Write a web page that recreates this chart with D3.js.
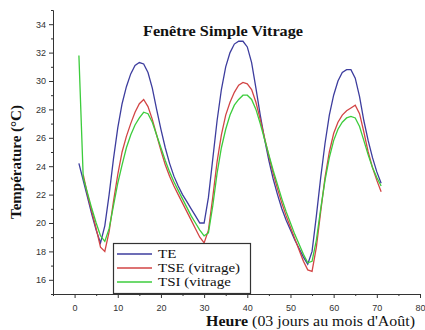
<!DOCTYPE html>
<html>
<head>
<meta charset="utf-8">
<script src="https://cdn.jsdelivr.net/npm/d3@7"></script>
<style>
  body { margin: 0; background: #fff; }
  svg { display: block; }
</style>
</head>
<body>
<script>
var w = 425;
var h = 330;
var serif = "'Liberation Serif', 'Times New Roman', serif";

// hours of the three days
var hours = d3.range(1, 72);

// TE - outside temperature
var te = [24.2, 23.0, 21.8, 20.6, 19.5, 18.6, 19.8, 22.0, 24.5, 26.7,
          28.4, 29.6, 30.5, 31.1, 31.3, 31.2, 30.6, 29.5, 28.0, 26.6,
          25.3, 24.2, 23.3, 22.6, 22.0, 21.5, 21.0, 20.5, 20.0, 20.0,
          21.8, 24.5, 27.2, 29.4, 31.0, 32.0, 32.6, 32.8, 32.8, 32.4,
          31.3, 29.5, 27.6, 25.9, 24.4, 23.1, 22.0, 21.0, 20.2, 19.5,
          18.8, 18.2, 17.6, 17.1, 18.0, 20.5, 23.2, 25.6, 27.6, 29.0,
          30.0, 30.6, 30.8, 30.8, 30.2, 28.9, 27.2, 25.8, 24.6, 23.6, 22.8];

// TSE (vitrage) - outer glass surface (starts at hour 2)
var tse = [null, 23.4, 22.0, 20.8, 19.6, 18.3, 18.0, 19.4, 21.5, 23.4,
           25.0, 26.1, 27.0, 27.8, 28.4, 28.7, 28.2, 27.3, 26.2, 25.1,
           24.1, 23.3, 22.6, 22.0, 21.4, 20.8, 20.2, 19.6, 19.0, 18.6,
           19.5, 21.8, 24.3, 26.2, 27.6, 28.5, 29.2, 29.7, 29.9, 29.8,
           29.4, 28.5, 27.3, 26.0, 24.7, 23.5, 22.4, 21.4, 20.5, 19.7,
           18.9, 18.1, 17.3, 16.7, 16.6, 18.3, 20.8, 23.2, 25.0, 26.3,
           27.1, 27.6, 27.9, 28.1, 28.3, 27.7, 26.4, 25.0, 23.9, 23.0, 22.2];

// TSI (vitrage) - inner glass surface
var tsi = [31.8, 23.2, 22.1, 21.0, 20.0, 19.1, 18.7, 19.6, 21.2, 22.8,
           24.1, 25.3, 26.2, 26.9, 27.4, 27.8, 27.7, 27.1, 26.2, 25.3,
           24.4, 23.6, 22.9, 22.3, 21.7, 21.1, 20.5, 20.0, 19.5, 19.1,
           19.3, 21.2, 23.5, 25.3, 26.6, 27.6, 28.3, 28.7, 29.0, 29.0,
           28.7, 28.0, 27.0, 25.9, 24.8, 23.7, 22.7, 21.7, 20.8, 20.0,
           19.2, 18.5, 17.8, 17.2, 17.3, 18.8, 21.0, 23.0, 24.6, 25.8,
           26.6, 27.1, 27.4, 27.5, 27.4, 26.8, 25.8, 24.8, 23.9, 23.2, 22.6];

var seriesNames = ["TE", "TSE (vitrage)", "TSI (vitrage"];
var seriesColors = ["#3d3d9e", "#d24545", "#3ccc3c"];
var xTicks = [0, 10, 20, 30, 40, 50, 60, 70, 80];
var yTicks = [16, 18, 20, 22, 24, 26, 28, 30, 32, 34];

var svg = d3.select("body").append("svg")
            .attr("width", w)
            .attr("height", h);

var x = d3.scaleLinear().domain([-5, 80]).range([53, 420]);
var y = d3.scaleLinear().domain([15, 35]).range([294, 10]);

// axes
var xAxis = svg.append("g")
  .attr("transform", "translate(0,294)")
  .call(d3.axisBottom(x).tickValues(xTicks).tickSize(4).tickSizeOuter(0));
svg.append("g")
  .attr("transform", "translate(0,294)")
  .call(d3.axisBottom(x).tickValues(d3.range(-5, 80, 10)).tickSize(2).tickFormat("").tickSizeOuter(0));

var yAxis = svg.append("g")
  .attr("transform", "translate(53,0)")
  .call(d3.axisLeft(y).tickValues(yTicks).tickSize(4).tickSizeOuter(0));
svg.append("g")
  .attr("transform", "translate(53,0)")
  .call(d3.axisLeft(y).tickValues(d3.range(15, 36, 2)).tickSize(2).tickFormat("").tickSizeOuter(0));

svg.selectAll(".domain").attr("stroke", "#333");
svg.selectAll(".tick line").attr("stroke", "#333");
svg.selectAll(".tick text")
  .attr("font-family", "'Liberation Sans', Arial, sans-serif")
  .attr("font-size", 9)
  .attr("fill", "#333");
xAxis.selectAll(".tick text").attr("dy", "1.1em");

// lines
var allSeries = [te, tse, tsi];
var line = d3.line()
  .defined(function(d) { return d[1] != null; })
  .x(function(d) { return x(d[0]); })
  .y(function(d) { return y(d[1]); });

svg.selectAll("path.serie")
  .data(allSeries)
  .enter()
  .append("path")
  .attr("class", "serie")
  .attr("fill", "none")
  .attr("stroke", function(d, i) { return seriesColors[i]; })
  .attr("stroke-width", 1.3)
  .attr("d", function(d) {
    return line(hours.map(function(t, i) { return [t, d[i]]; }));
  });

// title
svg.append("text")
  .text("Fenêtre Simple Vitrage")
  .attr("x", 143)
  .attr("y", 35.5)
  .attr("textLength", 160)
  .attr("lengthAdjust", "spacingAndGlyphs")
  .style("font-family", serif)
  .style("font-weight", "bold")
  .style("font-size", "14px")
  .attr("fill", "#111");

// y label
svg.append("text")
  .text("Température (°C)")
  .attr("transform", "translate(21,162) rotate(-90)")
  .attr("text-anchor", "middle")
  .style("font-family", serif)
  .style("font-weight", "bold")
  .style("font-size", "15px")
  .attr("fill", "#111");

// x label
var xl = svg.append("text")
  .attr("x", 206)
  .attr("y", 326)
  .attr("textLength", 209)
  .attr("lengthAdjust", "spacingAndGlyphs")
  .style("font-family", serif)
  .style("font-size", "15px")
  .attr("fill", "#111");
xl.append("tspan").style("font-weight", "bold").text("Heure");
xl.append("tspan").text(" (03 jours au mois d'Août)");

// legend
var lg = svg.append("g");
lg.append("rect")
  .attr("x", 113.5).attr("y", 243.5)
  .attr("width", 137).attr("height", 50)
  .attr("fill", "#fff")
  .attr("stroke", "#333")
  .attr("stroke-width", 1.2);

var items = lg.selectAll("g.item")
  .data(seriesNames)
  .enter()
  .append("g")
  .attr("class", "item")
  .attr("transform", function(d, i) { return "translate(117," + (254 + i * 14) + ")"; });

items.append("line")
  .attr("x1", 0).attr("x2", 35)
  .attr("stroke", function(d, i) { return seriesColors[i]; })
  .attr("stroke-width", 1.3);

items.append("text")
  .text(function(d) { return d; })
  .attr("x", 41)
  .attr("dy", "0.33em")
  .style("font-family", serif)
  .style("font-size", "12.5px")
  .attr("fill", "#111")
  .each(function() {
    // stretch the glyphs sideways, as in the original figure
    var len = this.getComputedTextLength();
    d3.select(this).attr("textLength", len * 1.2).attr("lengthAdjust", "spacingAndGlyphs");
  });
</script>
</body>
</html>
